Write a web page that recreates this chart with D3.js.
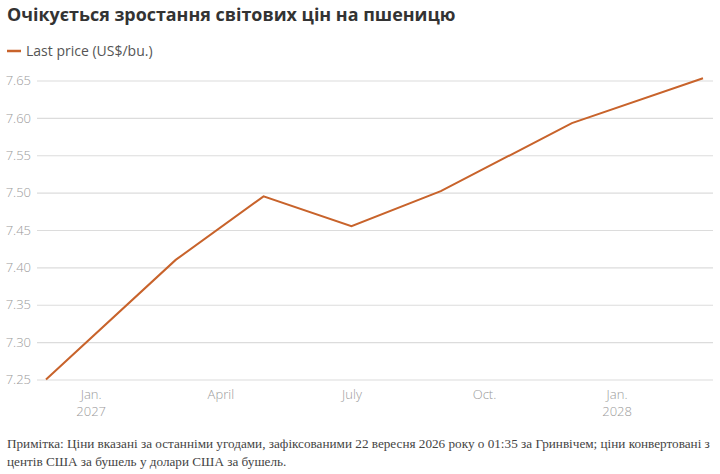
<!DOCTYPE html>
<html><head><meta charset="utf-8">
<script src="https://cdn.jsdelivr.net/npm/d3@7/dist/d3.min.js"></script>
<style>
html,body{margin:0;padding:0;background:#fff;}
svg{display:block;}
</style></head>
<body>
<svg id="chart" width="720" height="474"></svg>
<script>
const title = "Очікується зростання світових цін на пшеницю";
const seriesName = "Last price (US$/bu.)";
const contractDates = ["2026-12-01","2027-03-01","2027-05-01","2027-07-01","2027-09-01","2027-12-01","2028-03-01"];
const lastPrice = [7.25, 7.41, 7.495, 7.455, 7.502, 7.593, 7.653];
const yTicks = [7.25, 7.30, 7.35, 7.40, 7.45, 7.50, 7.55, 7.60, 7.65];
const xTickDates = ["2027-01-01","2027-04-01","2027-07-01","2027-10-01","2028-01-01"];
const xTickLabels = [["Jan.","2027"],["April"],["July"],["Oct."],["Jan.","2028"]];
const noteLines = [
  "Примітка: Ціни вказані за останніми угодами, зафіксованими 22 вересня 2026 року о 01:35 за Гринвічем; ціни конвертовані з",
  "центів США за бушель у долари США за бушель."
];

const parse = d3.utcParse("%Y-%m-%d");
const data = contractDates.map((d,i)=>({date:parse(d), value:lastPrice[i]}));

const svg = d3.select("#chart");
const sans = "'Open Sans', 'Noto Sans', sans-serif";

const x = d3.scaleUtc()
  .domain([parse(contractDates[0]), parse(contractDates[contractDates.length-1])])
  .range([46, 703]);
const y = d3.scaleLinear().domain([7.25, 7.65]).range([379.5, 80.5]);

// title
svg.append("text").attr("x", 7).attr("y", 20.5)
  .attr("font-family", sans).attr("font-weight", 700).attr("font-size", 17.9)
  .attr("fill", "#333").text(title);

// legend
svg.append("line").attr("x1", 7).attr("x2", 21).attr("y1", 51).attr("y2", 51)
  .attr("stroke", "#c8632b").attr("stroke-width", 2.5);
svg.append("text").attr("x", 26).attr("y", 56)
  .attr("font-family", sans).attr("font-weight", 400).attr("font-size", 14)
  .attr("fill", "#555").text(seriesName);

// y axis grid
const yAxis = d3.axisLeft(y).tickValues(yTicks).tickFormat(d3.format(".2f"))
  .tickSize(-(713 - 37)).tickPadding(6);
const gy = svg.append("g").attr("transform", "translate(37,0)").call(yAxis);
gy.select(".domain").remove();
gy.selectAll(".tick line").attr("stroke", "#dcdcdc").attr("stroke-width", 1.2);
gy.selectAll(".tick text").attr("font-family", sans).attr("font-weight", 300)
  .attr("font-size", 13).attr("fill", "#9a9a9a").attr("x", -6);

// x axis labels
const xAxis = d3.axisBottom(x).tickValues(xTickDates.map(parse)).tickSize(0).tickFormat("");
const gx = svg.append("g").attr("transform", "translate(0,379.5)").call(xAxis);
gx.select(".domain").remove();
gx.selectAll(".tick").each(function(d,i){
  const t = d3.select(this).append("text")
    .attr("font-family", sans).attr("font-weight", 300).attr("font-size", 13)
    .attr("fill", "#9a9a9a").attr("text-anchor", "middle");
  xTickLabels[i].forEach((s,j)=>{
    t.append("tspan").attr("x", 0).attr("y", 19 + j*17).text(s);
  });
});

// line
svg.append("path").datum(data)
  .attr("fill", "none").attr("stroke", "#c8632b").attr("stroke-width", 2)
  .attr("stroke-linejoin", "miter")
  .attr("d", d3.line().x(d=>x(d.date)).y(d=>y(d.value)));

// note
const note = svg.append("text").attr("font-family", "'Liberation Serif', 'DejaVu Serif', serif")
  .attr("font-size", 13.2).attr("fill", "#444");
noteLines.forEach((s,i)=>{
  note.append("tspan").attr("x", 7).attr("y", 448 + i*18).text(s);
});
</script>
</body></html>
